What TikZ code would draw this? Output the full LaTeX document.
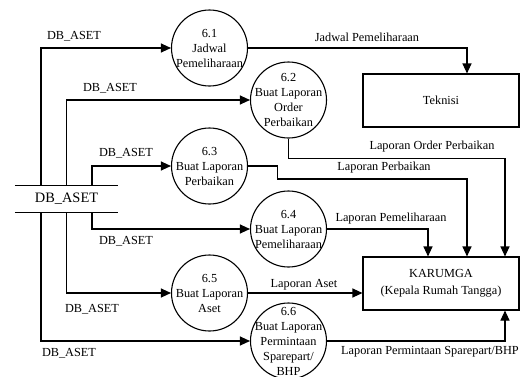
\documentclass[tikz,border=0pt]{standalone}
\usepackage{fontspec}
\setmainfont{Liberation Serif}
\usetikzlibrary{arrows.meta,positioning}
\tikzset{
  proc/.style={draw,circle,line width=1.1pt,minimum size=76pt,inner sep=0pt},
  ptext/.style={align=center,font=\fontsize{12.3}{15}\selectfont,inner sep=0pt},
  ent/.style={draw,line width=1.1pt,minimum width=156pt,minimum height=53pt,align=center,font=\fontsize{12.3}{17}\selectfont},
  flow/.style={line width=1.1pt,-{Triangle[length=10pt,width=9pt]}},
  lbl/.style={font=\fontsize{12.3}{15}\selectfont,inner sep=0pt},
}
\begin{document}
\begin{tikzpicture}[x=1pt,y=-1pt]
  \useasboundingbox (0,0) rectangle (528,376);
  % data store
  \node[minimum width=103pt,minimum height=26pt,inner sep=0pt,font=\fontsize{14.4}{16}\selectfont] (dbs) at (66.5,199) {DB\_ASET};
  \draw[line width=1.1pt] (dbs.north west) -- (dbs.north east);
  \draw[line width=1.1pt] (dbs.south west) -- (dbs.south east);
  % processes
  \node[proc] (p61) at (209.5,48) {};
  \node[proc] (p62) at (288.5,100) {};
  \node[proc] (p63) at (209.5,166) {};
  \node[proc] (p64) at (288.5,229) {};
  \node[proc] (p65) at (209.5,293) {};
  \node[proc] (p66) at (288.5,341) {};
  \node[ptext] (t61) at (p61) {6.1\\Jadwal\\Pemeliharaan};
  \node[ptext] (t62) at (p62) {6.2\\Buat Laporan\\Order\\Perbaikan};
  \node[ptext] (t63) at (p63) {6.3\\Buat Laporan\\Perbaikan};
  \node[ptext] (t64) at (p64) {6.4\\Buat Laporan\\Pemeliharaan};
  \node[ptext] (t65) at (p65) {6.5\\Buat Laporan\\Aset};
  \node[ptext] (t66) at (p66) {6.6\\Buat Laporan\\Permintaan\\Sparepart/\\BHP};
  % external entities
  \node[ent] (tek) at (441,100.5) {Teknisi};
  \node[ent] (kar) at (441,283.5) {KARUMGA\\(Kepala Rumah Tangga)};
  % flows from the store
  \draw[flow] ([xshift=-25.5pt]dbs.north) |- (p61.west);
  \draw[flow] (dbs.north) |- (p62.west);
  \draw[flow] ([xshift=25.5pt]dbs.north) |- (p63.west);
  \draw[flow] ([xshift=25.5pt]dbs.south) |- (p64.west);
  \draw[flow] (dbs.south) |- (p65.west);
  \draw[flow] ([xshift=-25.5pt]dbs.south) |- (p66.west);
  % flows to the entities
  \draw[flow] (p61.east) -| ([xshift=26pt]tek.north);
  \draw[flow] (p62.south) -- ++(0,20) -| ([xshift=64pt]kar.north);
  \draw[flow] (p63.east) -- ++(29,0) -- ++(0,13) -| ([xshift=26pt]kar.north);
  \draw[flow] (p64.east) -| ([xshift=-13pt]kar.north);
  \draw[flow] (p65.east) -- (p65.east -| kar.west);
  \draw[flow] (p66.east) -| ([xshift=64pt]kar.south);
  % labels
  \node[lbl] (l1) at (74,36) {DB\_ASET};
  \node[lbl] (l2) at (110,88) {DB\_ASET};
  \node[lbl] (l3) at (126,153) {DB\_ASET};
  \node[lbl] (l4) at (126,241) {DB\_ASET};
  \node[lbl] (l5) at (92,309) {DB\_ASET};
  \node[lbl] (l6) at (69,353) {DB\_ASET};
  \node[lbl] (l7) at (367,37) {Jadwal Pemeliharaan};
  \node[lbl] (l8) at (432,147) {Laporan Order Perbaikan};
  \node[lbl] (l9) at (384,168) {Laporan Perbaikan};
  \node[lbl] (l10) at (391,219) {Laporan Pemeliharaan};
  \node[lbl] (l11) at (304,285) {Laporan Aset};
  \node[lbl] (l12) at (430,352) {Laporan Permintaan Sparepart/BHP};
\end{tikzpicture}
\end{document}
